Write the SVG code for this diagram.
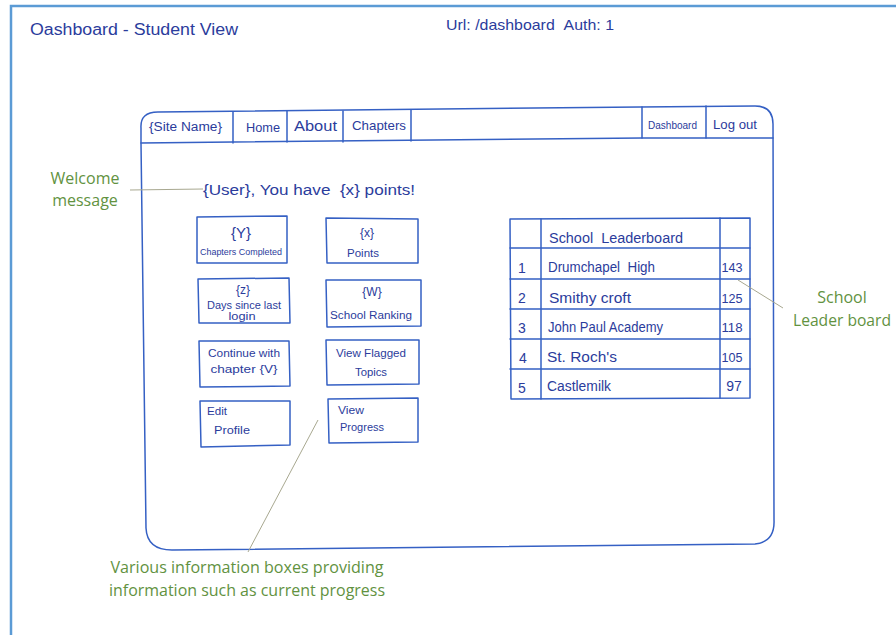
<svg xmlns="http://www.w3.org/2000/svg" width="896" height="635" viewBox="0 0 896 635">
  <style>
    .hand { font-family: "Liberation Sans", "DejaVu Sans", sans-serif; fill: #2b3c9c; }
    .note { font-family: "Open Sans", "Noto Sans", sans-serif; fill: #62923f; font-size: 16px; }
    .ink { fill: none; stroke: #3560c4; stroke-width: 1.5; stroke-linejoin: round; stroke-linecap: round; }
    .lead { fill: none; stroke: #a8a890; stroke-width: 1; }
    .frame { fill: none; stroke: #5b9bd5; stroke-width: 2.5; }
  </style>

  <rect x="0" y="0" width="896" height="635" fill="#ffffff"/>

  <!-- page frame -->
  <path class="frame" d="M11,635 L11,6 L896,6"/>

  <!-- page header -->
  <text class="hand" x="30" y="35" font-size="16" textLength="208" lengthAdjust="spacingAndGlyphs">Oashboard - Student View</text>
  <text class="hand" x="446" y="30" font-size="15" textLength="168" lengthAdjust="spacingAndGlyphs">Url: /dashboard &#160;Auth: 1</text>

  <!-- browser window -->
  <g id="window">
    <path class="ink" d="M141,128 Q140,112 158,112 L640,107 L755,106 Q773,106 773,124 L774,520 Q775,542 755,544 L172,550 Q147,550 146,528 L141,143 Z"/>
    <path class="ink" d="M141,143 L642,138 L773,138"/>
    <path class="ink" d="M233,112 L233,143 M287,111 L287,142 M343,111 L343,142 M411,110 L411,141 M642,107 L642,138 M706,106 L706,138"/>
    <text class="hand" x="149" y="131" font-size="12" textLength="73" lengthAdjust="spacingAndGlyphs">{Site Name}</text>
    <text class="hand" x="246" y="132" font-size="13" textLength="34" lengthAdjust="spacingAndGlyphs">Home</text>
    <text class="hand" x="294" y="131" font-size="14" textLength="43" lengthAdjust="spacingAndGlyphs">About</text>
    <text class="hand" x="352" y="130" font-size="13" textLength="54" lengthAdjust="spacingAndGlyphs">Chapters</text>
    <text class="hand" x="648" y="129" font-size="11" textLength="49" lengthAdjust="spacingAndGlyphs">Dashboard</text>
    <text class="hand" x="713" y="129" font-size="12" textLength="44" lengthAdjust="spacingAndGlyphs">Log out</text>
  </g>

  <g id="welcome">
    <text class="hand" x="203" y="195" font-size="14" textLength="212" lengthAdjust="spacingAndGlyphs">{User}, You have &#160;{x} points!</text>
  </g>

  <!-- information boxes -->
  <g id="box-chapters">
    <path class="ink" d="M197,217 L287,216 L287,263 L197,263 Z"/>
    <text class="hand" x="241" y="238" font-size="15" text-anchor="middle">{Y}</text>
    <text class="hand" x="241" y="255" font-size="9" text-anchor="middle" textLength="82" lengthAdjust="spacingAndGlyphs">Chapters Completed</text>
  </g>
  <g id="box-points">
    <path class="ink" d="M326,218 L418,219 L418,263 L327,263 Z"/>
    <text class="hand" x="367" y="237" font-size="12" text-anchor="middle">{x}</text>
    <text class="hand" x="363" y="257" font-size="11" text-anchor="middle" textLength="32" lengthAdjust="spacingAndGlyphs">Points</text>
  </g>
  <g id="box-days">
    <path class="ink" d="M198,279 L289,278 L290,323 L199,323 Z"/>
    <text class="hand" x="243" y="294" font-size="12" text-anchor="middle">{z}</text>
    <text class="hand" x="244" y="309" font-size="10" text-anchor="middle" textLength="74" lengthAdjust="spacingAndGlyphs">Days since last</text>
    <text class="hand" x="242" y="320" font-size="10" text-anchor="middle" textLength="27" lengthAdjust="spacingAndGlyphs">login</text>
  </g>
  <g id="box-ranking">
    <path class="ink" d="M326,280 L421,280 L421,326 L327,327 Z"/>
    <text class="hand" x="372" y="296" font-size="12" text-anchor="middle">{W}</text>
    <text class="hand" x="371" y="319" font-size="10" text-anchor="middle" textLength="82" lengthAdjust="spacingAndGlyphs">School Ranking</text>
  </g>
  <g id="box-continue">
    <path class="ink" d="M199,341 L289,341 L290,386 L200,387 Z"/>
    <text class="hand" x="244" y="357" font-size="11" text-anchor="middle" textLength="72" lengthAdjust="spacingAndGlyphs">Continue with</text>
    <text class="hand" x="244" y="373" font-size="11" text-anchor="middle" textLength="67" lengthAdjust="spacingAndGlyphs">chapter {V}</text>
  </g>
  <g id="box-flagged">
    <path class="ink" d="M326,340 L419,340 L419,384 L327,385 Z"/>
    <text class="hand" x="371" y="357" font-size="11" text-anchor="middle" textLength="70" lengthAdjust="spacingAndGlyphs">View Flagged</text>
    <text class="hand" x="371" y="376" font-size="11" text-anchor="middle" textLength="32" lengthAdjust="spacingAndGlyphs">Topics</text>
  </g>
  <g id="box-profile">
    <path class="ink" d="M200,401 L290,401 L290,445 L201,447 Z"/>
    <text class="hand" x="207" y="415" font-size="11" textLength="20" lengthAdjust="spacingAndGlyphs">Edit</text>
    <text class="hand" x="214" y="434" font-size="11" textLength="36" lengthAdjust="spacingAndGlyphs">Profile</text>
  </g>
  <g id="box-progress">
    <path class="ink" d="M328,399 L418,398 L418,442 L329,443 Z"/>
    <text class="hand" x="338" y="414" font-size="11" textLength="26" lengthAdjust="spacingAndGlyphs">View</text>
    <text class="hand" x="340" y="431" font-size="11" textLength="44" lengthAdjust="spacingAndGlyphs">Progress</text>
  </g>

  <!-- leaderboard table -->
  <g id="leaderboard">
    <path class="ink" d="M510,219 L750,218 L750,398 L511,399 Z"/>
    <path class="ink" d="M510,248 L750,248 M510,279 L750,279 M510,309 L750,309 M510,339 L750,339 M510,369 L750,369"/>
    <path class="ink" d="M541,219 L541,399 M720,218 L720,398"/>
    <text class="hand" x="549" y="243" font-size="14" textLength="134" lengthAdjust="spacingAndGlyphs">School &#160;Leaderboard</text>
    <text class="hand" x="522" y="273" font-size="14" text-anchor="middle">1</text>
    <text class="hand" x="522" y="303" font-size="14" text-anchor="middle">2</text>
    <text class="hand" x="522" y="333" font-size="14" text-anchor="middle">3</text>
    <text class="hand" x="523" y="363" font-size="14" text-anchor="middle">4</text>
    <text class="hand" x="522" y="393" font-size="14" text-anchor="middle">5</text>
    <text class="hand" x="548" y="272" font-size="14" textLength="107" lengthAdjust="spacingAndGlyphs">Drumchapel &#160;High</text>
    <text class="hand" x="549" y="303" font-size="14" textLength="82" lengthAdjust="spacingAndGlyphs">Smithy croft</text>
    <text class="hand" x="548" y="332" font-size="14" textLength="115" lengthAdjust="spacingAndGlyphs">John Paul Academy</text>
    <text class="hand" x="547" y="362" font-size="14" textLength="70" lengthAdjust="spacingAndGlyphs">St. Roch's</text>
    <text class="hand" x="547" y="391" font-size="14" textLength="64" lengthAdjust="spacingAndGlyphs">Castlemilk</text>
    <text class="hand" x="732" y="272" font-size="12" text-anchor="middle" textLength="21" lengthAdjust="spacingAndGlyphs">143</text>
    <text class="hand" x="732" y="303" font-size="12" text-anchor="middle" textLength="21" lengthAdjust="spacingAndGlyphs">125</text>
    <text class="hand" x="732" y="332" font-size="12" text-anchor="middle" textLength="21" lengthAdjust="spacingAndGlyphs">118</text>
    <text class="hand" x="732" y="362" font-size="12" text-anchor="middle" textLength="21" lengthAdjust="spacingAndGlyphs">105</text>
    <text class="hand" x="734" y="391" font-size="14" text-anchor="middle">97</text>
  </g>

  <!-- annotations -->
  <g id="note-welcome">
    <text class="note" x="85" y="184" text-anchor="middle">Welcome</text>
    <text class="note" x="85" y="206" text-anchor="middle">message</text>
  </g>
  <g id="note-leaderboard">
    <text class="note" x="842" y="303" text-anchor="middle">School</text>
    <text class="note" x="842" y="326" text-anchor="middle" textLength="98" lengthAdjust="spacingAndGlyphs">Leader board</text>
  </g>
  <g id="note-boxes">
    <text class="note" x="247" y="573" text-anchor="middle" textLength="273" lengthAdjust="spacingAndGlyphs">Various information boxes providing</text>
    <text class="note" x="247" y="596" text-anchor="middle" textLength="276" lengthAdjust="spacingAndGlyphs">information such as current progress</text>
  </g>

  <g id="connectors">
    <path class="lead" d="M130,190 L203,189"/>
    <path class="lead" d="M738,280 L783,308"/>
    <path class="lead" d="M318,420 L248,552"/>
  </g>
</svg>
